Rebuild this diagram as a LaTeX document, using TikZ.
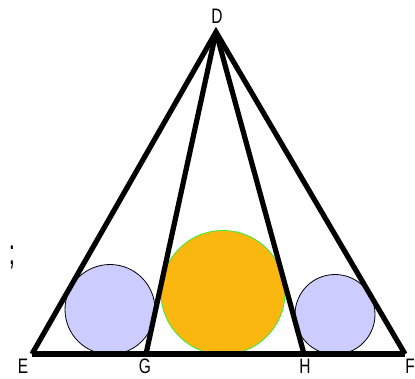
\documentclass[tikz,border=0pt]{standalone}
\usepackage{fontspec}
\setmainfont{Liberation Sans}
\definecolor{lav}{HTML}{CCCCFF}
\definecolor{gold}{HTML}{F9B710}
\definecolor{rim}{HTML}{33EE33}
\newcommand{\tallt}[1]{\scalebox{1}[1.35]{#1}}
\begin{document}
\begin{tikzpicture}[x=1pt,y=-1pt,
  lbl/.style={font=\fontsize{15.5}{18}\selectfont, inner sep=0pt},
  side/.style={line width=5.2pt, line join=miter},
  small/.style={draw=black, line width=0.8pt, fill=lav},
  big/.style={draw=rim, line width=0.8pt, fill=gold}]
\useasboundingbox (0,0) rectangle (415,378);
\coordinate (D) at (216,32);
\coordinate (E) at (32,354);
\coordinate (F) at (405,354);
\coordinate (G) at (146,354);
\coordinate (H) at (304,354);
\node[small, circle, minimum size=90pt, inner sep=0pt] (c1) at (110,309.5) {};
\node[big, circle, minimum size=124pt, inner sep=0pt] (c2) at (223,292.5) {};
\node[small, circle, minimum size=80pt, inner sep=0pt] (c3) at (335,314.5) {};
\draw[side] (E) -- (D) -- (F);
\draw[side] (D) -- (G);
\draw[side] (D) -- (H);
\draw[side] (E) -- (F);
\node[lbl] (lD) at (217,16) {\tallt{D}};
\node[lbl] (lE) at (23,366) {\tallt{E}};
\node[lbl] (lG) at (145,366) {\tallt{G}};
\node[lbl] (lH) at (305,366) {\tallt{H}};
\node[lbl] (lF) at (410,366) {\tallt{F}};
\node[lbl, font=\fontsize{22}{26}\selectfont] (semi) at (12,257) {\scalebox{1}[1.6]{;}};
\end{tikzpicture}
\end{document}
